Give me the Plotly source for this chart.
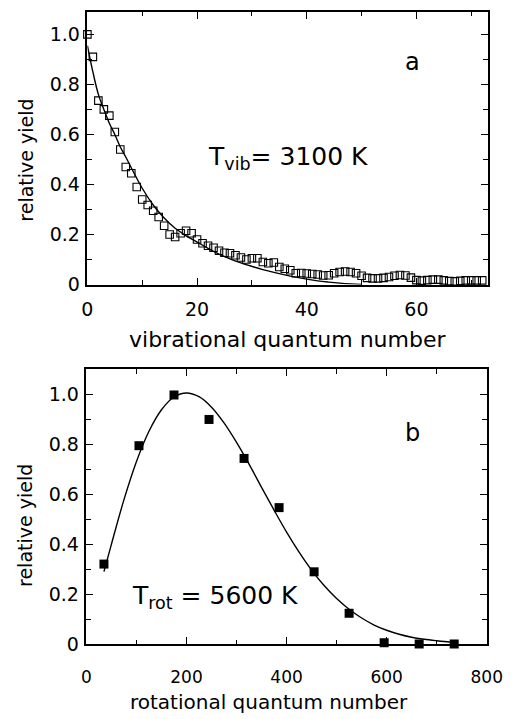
import plotly.graph_objects as go

# ---- panel a: vibrational distribution ----
vib_v = list(range(73))
vib_yield = [1.00, 0.91, 0.735, 0.70, 0.675, 0.61, 0.54, 0.47, 0.445, 0.39,
             0.34, 0.318, 0.295, 0.27, 0.235, 0.20, 0.19, 0.205, 0.215, 0.205,
             0.18, 0.165, 0.155, 0.147, 0.135, 0.127, 0.125, 0.117, 0.108, 0.10,
             0.105, 0.105, 0.09, 0.085, 0.088, 0.07, 0.063, 0.057, 0.045, 0.046,
             0.044, 0.042, 0.04, 0.036, 0.037, 0.045, 0.05, 0.052, 0.05, 0.045,
             0.035, 0.027, 0.025, 0.025, 0.027, 0.03, 0.035, 0.038, 0.036, 0.028,
             0.018, 0.016, 0.018, 0.02, 0.02, 0.017, 0.014, 0.013, 0.015, 0.017,
             0.017, 0.017, 0.017]
vib_fit_x = [0, 1, 2, 3, 4, 5, 6, 7, 8, 10, 12, 14, 16, 18, 20, 22, 24, 26, 28,
             30, 32, 34, 36, 38, 40, 42, 44, 46, 48, 50]
vib_fit_y = [0.955, 0.85, 0.76, 0.70, 0.645, 0.60, 0.55, 0.51, 0.467, 0.385,
             0.318, 0.266, 0.225, 0.195, 0.17, 0.145, 0.122, 0.103, 0.087,
             0.073, 0.06, 0.049, 0.039, 0.030, 0.022, 0.015, 0.010, 0.006,
             0.003, 0.001]

# ---- panel b: rotational distribution ----
rot_j = [35, 105, 175, 245, 315, 385, 455, 525, 595, 665, 735]
rot_yield = [0.32, 0.794, 0.997, 0.899, 0.743, 0.546, 0.289, 0.123, 0.005, 0.0, 0.0]
rot_fit_x = [35, 50, 75, 100, 125, 150, 175, 200, 225, 250, 275, 300, 325, 350,
             375, 400, 425, 450, 475, 500, 525, 550, 575, 600, 625, 650, 675,
             700, 725, 735]
rot_fit_y = [0.29, 0.40, 0.578, 0.731, 0.852, 0.938, 0.989, 1.005, 0.99, 0.948,
             0.885, 0.807, 0.72, 0.627, 0.536, 0.448, 0.368, 0.296, 0.234,
             0.182, 0.139, 0.104, 0.076, 0.055, 0.039, 0.027, 0.019, 0.013,
             0.008, 0.007]

x_top_ticks = [0, 20, 40, 60]
x_bot_ticks = [0, 200, 400, 600, 800]
y_ticks = [0, 0.2, 0.4, 0.6, 0.8, 1.0]
y_tick_text = ["0", "0.2", "0.4", "0.6", "0.8", "1.0"]

FONT = "DejaVu Sans"

fig = go.Figure()
fig.add_trace(go.Scatter(x=vib_fit_x, y=vib_fit_y, mode="lines",
                         line=dict(color="black", width=1.4, shape="spline"),
                         xaxis="x", yaxis="y", showlegend=False))
fig.add_trace(go.Scatter(x=vib_v, y=vib_yield, mode="markers",
                         marker=dict(symbol="square-open", size=7.5, color="black",
                                     line=dict(width=1.1, color="black")),
                         xaxis="x", yaxis="y", showlegend=False, cliponaxis=False))
fig.add_trace(go.Scatter(x=rot_fit_x, y=rot_fit_y, mode="lines",
                         line=dict(color="black", width=1.4, shape="spline"),
                         xaxis="x2", yaxis="y2", showlegend=False))
fig.add_trace(go.Scatter(x=rot_j, y=rot_yield, mode="markers",
                         marker=dict(symbol="square", size=9, color="black"),
                         xaxis="x2", yaxis="y2", showlegend=False, cliponaxis=False))

axis_common = dict(showgrid=False, zeroline=False, showline=True, linecolor="black",
                   linewidth=1.5, mirror="allticks", ticks="inside", ticklen=7,
                   tickwidth=1.2, tickcolor="black",
                   tickfont=dict(family=FONT, size=19, color="black"))

fig.update_layout(
    width=519, height=719, margin=dict(l=0, r=0, t=0, b=0),
    paper_bgcolor="white", plot_bgcolor="white", showlegend=False,
    xaxis=dict(domain=[85/519, 503/519], range=[0, 73], anchor="y",
               tickvals=x_top_ticks, ticklabelstandoff=7,
               minor=dict(dtick=10, tick0=0, ticks="inside", ticklen=4.5,
                          tickwidth=1.2, tickcolor="black"),
               **axis_common),
    yaxis=dict(domain=[1-289/719, 1-12/719], range=[0, 1.09], anchor="x",
               tickvals=y_ticks, ticktext=y_tick_text, ticklabelstandoff=2,
               minor=dict(dtick=0.1, tick0=0, ticks="inside", ticklen=4.5,
                          tickwidth=1.2, tickcolor="black"),
               **axis_common),
    xaxis2=dict(domain=[84/519, 502/519], range=[0, 800], anchor="y2",
                tickvals=x_bot_ticks, ticklabelstandoff=17,
                minor=dict(dtick=100, tick0=0, ticks="inside", ticklen=4.5,
                           tickwidth=1.2, tickcolor="black"),
                **{**axis_common, "tickfont": dict(family=FONT, size=17, color="black")}),
    yaxis2=dict(domain=[1-654/719, 1-375/719], range=[0, 1.1], anchor="x2",
                tickvals=y_ticks, ticktext=y_tick_text, ticklabelstandoff=2,
                minor=dict(dtick=0.1, tick0=0, ticks="inside", ticklen=4.5,
                           tickwidth=1.2, tickcolor="black"),
                **axis_common),
)

def ann(text, x, y, size, angle=0, yanchor="middle"):
    fig.add_annotation(text=text, x=x, y=y, xref="paper", yref="paper",
                       xanchor="center", yanchor=yanchor, showarrow=False,
                       textangle=angle, font=dict(family=FONT, size=size, color="black"))

ann("relative yield", 20/519, 1-163/719, 19, -90)
ann("relative yield", 20/519, 1-534/719, 19, -90)
ann("vibrational quantum number", 294/519, 1-345/719, 22)
ann("rotational quantum number", 275/519, 1-713/719, 20)
ann("a", 425/519, 1-63/719, 24)
ann("b", 424/519, 1-440/719, 24)
ann("T<sub>vib</sub>= 3100 K", 295/519, 1-160/719, 25)
ann("T<sub>rot</sub> = 5600 K", 218/519, 1-606/719, 25)

fig.write_html("out.html")
